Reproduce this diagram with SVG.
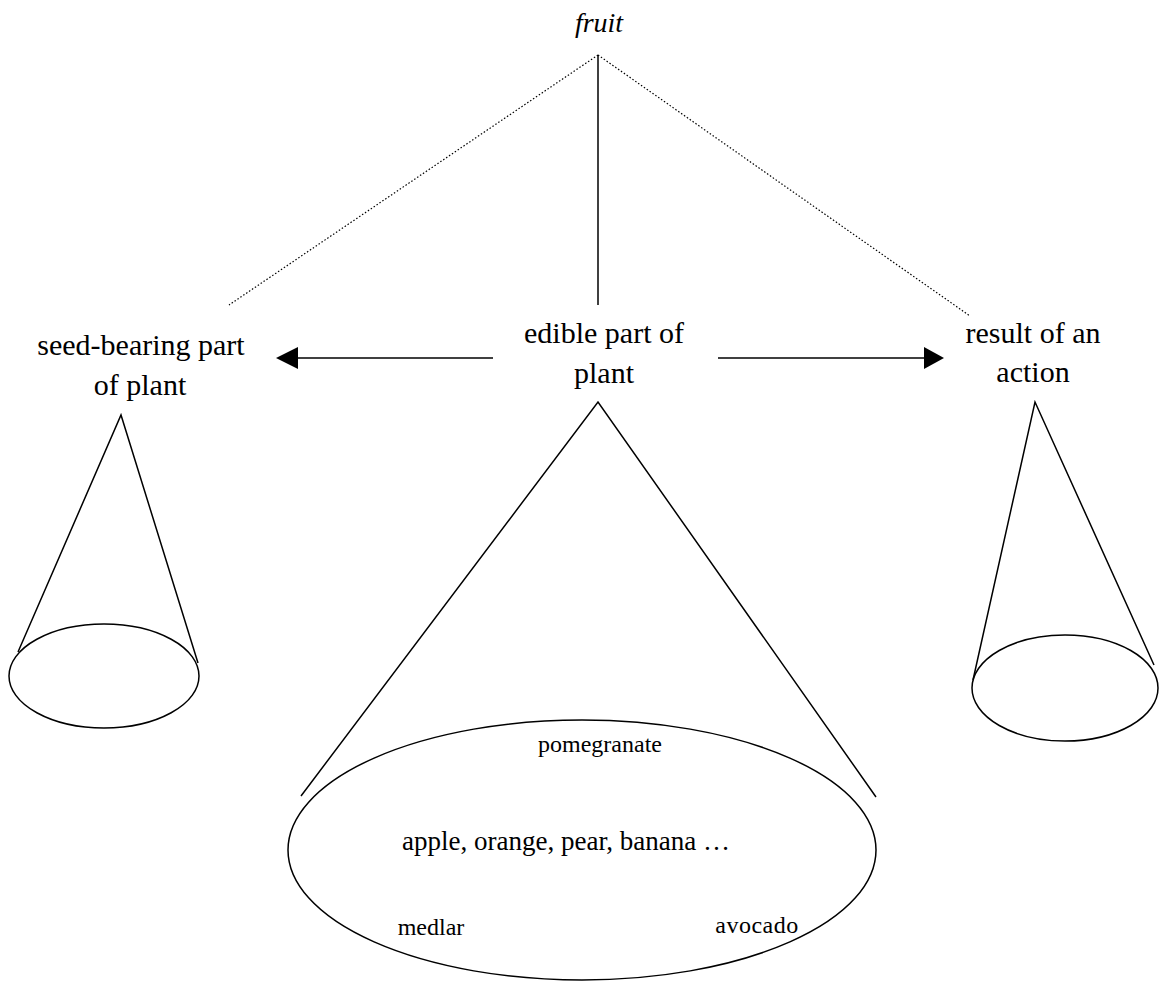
<svg xmlns="http://www.w3.org/2000/svg" width="1159" height="982" viewBox="0 0 1159 982">
<style>
.t{font-family:'Liberation Serif','DejaVu Serif',serif;fill:#000;text-anchor:middle}
.lbl{font-size:30px}
.mid{font-size:27px}
.sm{font-size:24px}
.ln{stroke:#000;stroke-width:1.5;fill:none}
.dot{stroke:#000;stroke-width:1.2;stroke-dasharray:1.5 2;fill:none}
.ah{fill:#000}
</style>
<rect width="1159" height="982" fill="#fff"/>
<g id="fruit"><text class="t" x="599" y="32" font-family="Liberation Serif, serif" style="font-size:28px;font-style:italic">fruit</text></g>
<g id="connectors">
<line class="ln" x1="598" y1="55" x2="598" y2="305"/>
<line class="dot" x1="598" y1="55" x2="229" y2="305"/>
<line class="dot" x1="598" y1="55" x2="970" y2="316"/>
<line class="ln" x1="493" y1="358" x2="296" y2="358"/>
<path class="ah" d="M276,358 L298,347 L298,369 z"/>
<line class="ln" x1="718" y1="358" x2="926" y2="358"/>
<path class="ah" d="M944,358 L924,347 L924,369 z"/>
</g>
<g id="seed" font-family="Liberation Serif, serif">
<text class="t lbl" x="141" y="355">seed-bearing part</text>
<text class="t lbl" x="140" y="395">of plant</text>
<path class="ln" d="M18,652 L121,415 L198,663"/>
<ellipse class="ln" cx="104" cy="676" rx="95" ry="52"/>
</g>
<g id="edible" font-family="Liberation Serif, serif">
<text class="t lbl" x="604" y="343">edible part of</text>
<text class="t lbl" x="604" y="383">plant</text>
<path class="ln" d="M301,796 L598,402 L876,797"/>
<ellipse class="ln" cx="582" cy="850" rx="294" ry="130"/>
<text class="t sm" x="600" y="752">pomegranate</text>
<text class="t mid" x="566" y="850">apple, orange, pear, banana …</text>
<text class="t sm" x="431" y="935">medlar</text>
<text class="t sm" x="757" y="933" style="letter-spacing:0.5px">avocado</text>
</g>
<g id="result" font-family="Liberation Serif, serif">
<text class="t lbl" x="1033" y="343">result of an</text>
<text class="t lbl" x="1033" y="382">action</text>
<path class="ln" d="M973,680 L1035,402 L1154,665"/>
<ellipse class="ln" cx="1065" cy="688" rx="93" ry="53"/>
</g>
</svg>
